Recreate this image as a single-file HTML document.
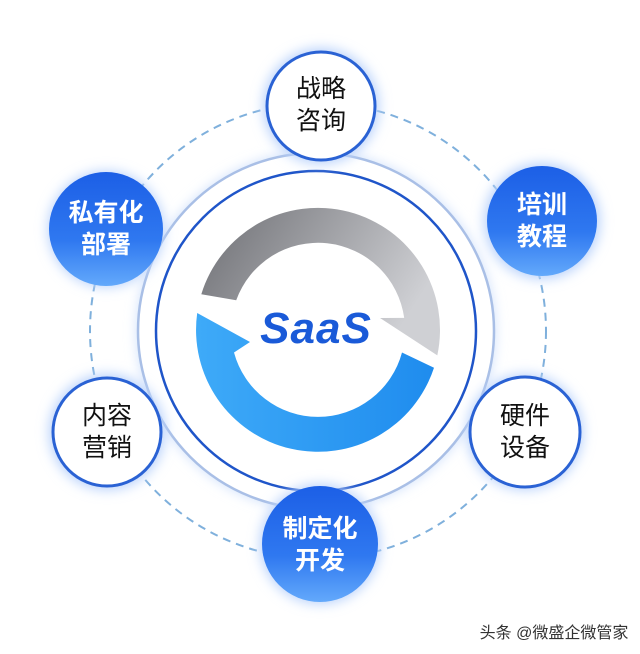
<!DOCTYPE html>
<html><head><meta charset="utf-8"><style>
html,body{margin:0;padding:0;background:#fff;}
svg{display:block;}
text{font-family:"Liberation Sans","Noto Sans CJK SC",sans-serif;}
</style></head><body>
<svg width="640" height="654" viewBox="0 0 640 654" xmlns="http://www.w3.org/2000/svg">
<defs>
<linearGradient id="gb" x1="0" y1="0" x2="0" y2="1">
<stop offset="0" stop-color="#1c5fe6"/><stop offset="0.6" stop-color="#2f78f0"/><stop offset="1" stop-color="#63a9fb"/>
</linearGradient>
<linearGradient id="gg" x1="0" y1="0" x2="1" y2="0.4">
<stop offset="0" stop-color="#6d6e73"/><stop offset="1" stop-color="#cfd0d4"/>
</linearGradient>
<linearGradient id="gbl" x1="1" y1="0" x2="0" y2="0">
<stop offset="0" stop-color="#1f8cee"/><stop offset="1" stop-color="#3eaaf8"/>
</linearGradient>
<filter id="glow" x="-40%" y="-40%" width="180%" height="180%">
<feGaussianBlur stdDeviation="6"/>
</filter>
</defs>
<rect width="640" height="654" fill="#fff"/>
<circle cx="318" cy="331" r="228" fill="none" stroke="#7fb0dc" stroke-width="2" stroke-dasharray="8 6"/>
<circle cx="316" cy="331" r="170" fill="none" stroke="#cfe0fb" stroke-width="18" filter="url(#glow)"/>
<circle cx="316" cy="331" r="178" fill="#fff" stroke="#a9bfe6" stroke-width="2.5"/>
<circle cx="316" cy="331" r="160" fill="#fff" stroke="#1f55c9" stroke-width="2.5"/>
<path d="M201.3,294.3 A122,122 0 0 1 437.3,355.4 L380,318 L404.2,317.9 A87,87 0 0 0 236.2,300.2 Z" fill="url(#gg)"/>
<path d="M434,367.7 A122,122 0 0 1 197.2,313 L250,342 L234,352.5 A87,87 0 0 0 402,352.5 Z" fill="url(#gbl)"/>
<text x="316" y="343" text-anchor="middle" font-size="44" font-weight="bold" font-style="italic" fill="#1a5ad8" letter-spacing="1">SaaS</text>
<g fill="#b9d2fb" filter="url(#glow)">
<circle cx="321" cy="106" r="58"/><circle cx="542" cy="221" r="58"/><circle cx="525" cy="432" r="58"/>
<circle cx="320" cy="544" r="60"/><circle cx="107" cy="432" r="58"/><circle cx="106" cy="229" r="58"/>
</g>
<g fill="#fff" stroke="#2a62d4" stroke-width="3">
<circle cx="321" cy="106" r="54"/><circle cx="525" cy="432" r="55"/><circle cx="107" cy="432" r="54"/>
</g>
<circle cx="542" cy="221" r="55" fill="url(#gb)"/>
<circle cx="320" cy="544" r="58" fill="url(#gb)"/>
<circle cx="106" cy="229" r="57" fill="url(#gb)"/>
<g font-size="25" text-anchor="middle" fill="#111">
<text x="321" y="97">战略</text><text x="321" y="129">咨询</text>
<text x="525" y="424">硬件</text><text x="525" y="456">设备</text>
<text x="107" y="424">内容</text><text x="107" y="456">营销</text>
</g>
<g font-size="25" text-anchor="middle" fill="#fff" font-weight="bold">
<text x="542" y="213">培训</text><text x="542" y="245">教程</text>
<text x="320" y="537">制定化</text><text x="320" y="569">开发</text>
<text x="106" y="221">私有化</text><text x="106" y="253">部署</text>
</g>
<text x="554" y="638" text-anchor="middle" font-size="16" fill="#333">头条 @微盛企微管家</text>
</svg>
</body></html>
